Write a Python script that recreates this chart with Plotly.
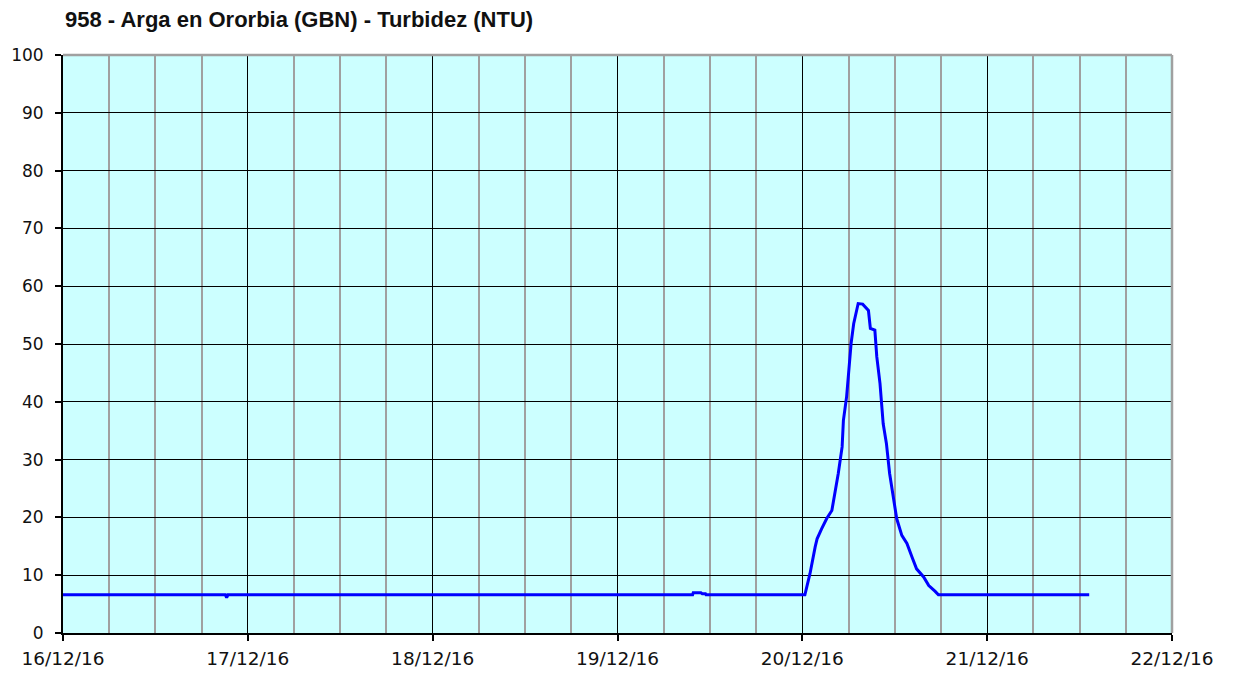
import plotly.graph_objects as go

title_text = "958 - Arga en Ororbia (GBN) - Turbidez (NTU)"

times = [
    "2016-12-16 00:00", "2016-12-16 21:05", "2016-12-16 21:15", "2016-12-16 21:25",
    "2016-12-19 09:45", "2016-12-19 09:50", "2016-12-19 10:50", "2016-12-19 11:00",
    "2016-12-19 11:25", "2016-12-19 11:30",
    "2016-12-20 00:20", "2016-12-20 01:00", "2016-12-20 01:40", "2016-12-20 01:55",
    "2016-12-20 02:30", "2016-12-20 03:10", "2016-12-20 03:50", "2016-12-20 04:15",
    "2016-12-20 04:40", "2016-12-20 05:10", "2016-12-20 05:20", "2016-12-20 05:45",
    "2016-12-20 06:00", "2016-12-20 06:20", "2016-12-20 06:40", "2016-12-20 07:15",
    "2016-12-20 07:50", "2016-12-20 08:35", "2016-12-20 08:50", "2016-12-20 09:25",
    "2016-12-20 09:40", "2016-12-20 10:05", "2016-12-20 10:30", "2016-12-20 10:55",
    "2016-12-20 11:20", "2016-12-20 11:50", "2016-12-20 12:15", "2016-12-20 12:55",
    "2016-12-20 13:35", "2016-12-20 14:15", "2016-12-20 14:50", "2016-12-20 15:45",
    "2016-12-20 16:25", "2016-12-20 17:15", "2016-12-20 17:40",
    "2016-12-21 13:15",
]
turbidity = [
    6.6, 6.6, 6.1, 6.6,
    6.6, 6.95, 6.95, 6.8,
    6.8, 6.6,
    6.6, 10.3, 14.9, 16.3,
    18.0, 19.8, 21.2, 24.1,
    27.6, 32.2, 36.8, 40.9,
    45.5, 50.1, 53.5, 57.0,
    56.9, 55.8, 52.7, 52.4,
    47.8, 43.2, 36.2, 32.8,
    27.6, 23.5, 19.8, 16.9,
    15.5, 13.1, 11.1, 9.7,
    8.2, 7.2, 6.6,
    6.6,
]

x_range = ["2016-12-16 00:00", "2016-12-22 00:00"]
y_range = [0, 100]

W, H = 1225, 665

fig = go.Figure()
fig.add_trace(go.Scatter(
    x=times, y=turbidity, mode="lines",
    line=dict(color="#0000FF", width=3),
    hoverinfo="x+y",
))

fig.update_layout(
    width=W, height=H,
    margin=dict(l=55, r=61, t=47, b=40),
    paper_bgcolor="white",
    plot_bgcolor="#CCFFFF",
    showlegend=False,
    title=dict(
        text="<b>" + title_text + "</b>",
        font=dict(family="Liberation Sans", size=22, color="#111111"),
        x=57 / W, xanchor="left", xref="container",
        y=1 - 11.5 / H, yanchor="middle", yref="container",
    ),
    xaxis=dict(
        type="date", range=x_range,
        dtick=86400000, tick0="2016-12-16",
        tickformat="%d/%m/%y",
        showgrid=True, gridcolor="#000000", gridwidth=1.3,
        minor=dict(dtick=6 * 3600000, showgrid=True, gridcolor="#A0A0A0",
                   gridwidth=2, ticks=""),
        showline=True, linecolor="#000000", linewidth=2,
        ticks="outside", ticklen=6, tickcolor="#000000", tickwidth=2,
        tickfont=dict(family="DejaVu Sans", size=18.5, color="#111111"),
        ticklabelstandoff=2, automargin=False,
        zeroline=False,
    ),
    yaxis=dict(
        range=y_range, dtick=10,
        showgrid=True, gridcolor="#000000", gridwidth=1.3,
        showline=True, linecolor="#000000", linewidth=2,
        ticks="outside", ticklen=6, tickcolor="#000000", tickwidth=2,
        tickfont=dict(family="DejaVu Sans", size=17, color="#111111"),
        ticklabelstandoff=8, automargin=False,
        zeroline=False,
    ),
    shapes=[
        dict(type="line", xref="paper", yref="paper", x0=0, x1=1, y0=1, y1=1,
             line=dict(color="#A0A0A0", width=2.5), layer="above"),
        dict(type="line", xref="paper", yref="paper", x0=1, x1=1, y0=0, y1=1,
             line=dict(color="#A0A0A0", width=2.5), layer="above"),
    ],
)

fig.write_html("out.html")
